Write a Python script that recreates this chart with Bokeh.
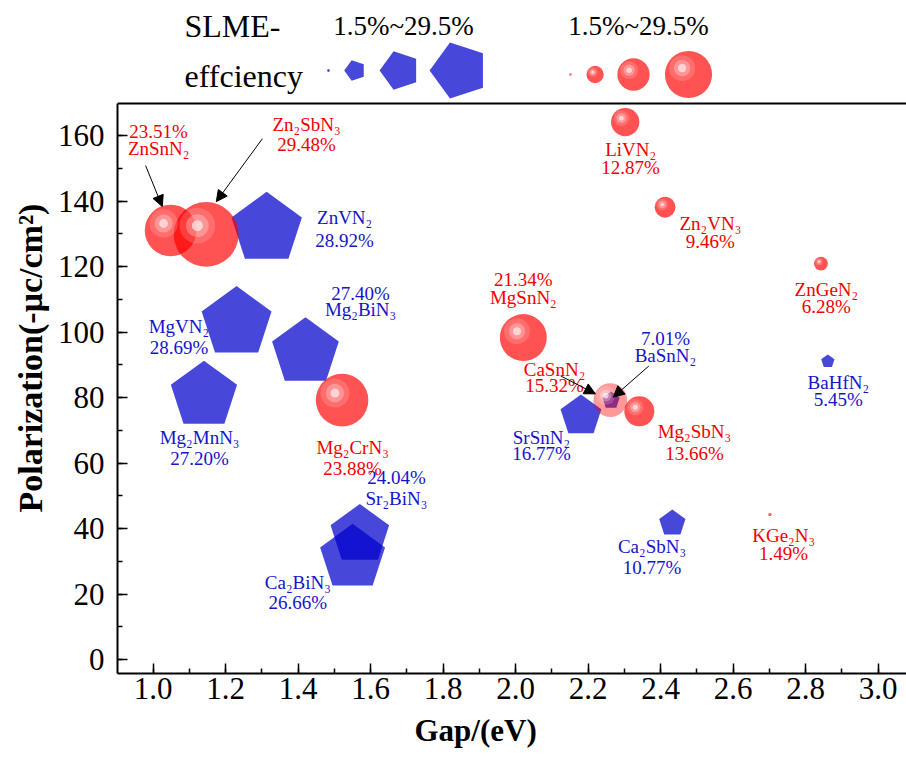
from bokeh.plotting import figure
from bokeh.models import (ColumnDataSource, Range1d, Span, Arrow, NormalHead, Title,
                          SingleIntervalTicker, PrintfTickFormatter)
from bokeh.core.properties import value
from bokeh.embed import file_html
from bokeh.resources import INLINE
import numpy as np

# ---------------- data ----------------
# red circles
red_names = ["ZnSnN₂", "Zn₂SbN₃", "Mg₂CrN₃", "MgSnN₂", "CaSnN₂", "Mg₂SbN₃",
             "LiVN₂", "Zn₂VN₃", "ZnGeN₂", "KGe₂N₃"]
red_gap = [1.048, 1.146, 1.521, 2.021, 2.261, 2.341, 2.302, 2.412, 2.842, 2.701]
red_pol = [131.0, 129.8, 79.2, 98.3, 79.2, 75.8, 164.1, 138.1, 120.9, 44.3]
red_slme = [23.51, 29.48, 23.88, 21.34, 15.32, 13.66, 12.87, 9.46, 6.28, 1.49]
red_lab_x = [1.015, 1.423, 1.550, 2.021, 2.107, 2.493, 2.317, 2.537, 2.857, 2.739]
red_name_y = [153.9, 161.3, 62.8, 108.6, 86.4, 67.7, 153.6, 131.2, 111.1, 35.8]
red_pct_y = [159.3, 155.2, 56.4, 114.0, 81.6, 61.0, 148.3, 125.6, 105.7, 30.2]

# blue pentagons
blue_names = ["ZnVN₂", "MgVN₂", "Mg₂BiN₃", "Mg₂MnN₃", "Sr₂BiN₃", "Ca₂BiN₃",
              "SrSnN₂", "Ca₂SbN₃", "BaSnN₂", "BaHfN₂"]
blue_gap = [1.313, 1.230, 1.420, 1.140, 1.570, 1.550, 2.180, 2.432, 2.263, 2.861]
blue_pol = [131.5, 102.8, 93.8, 80.6, 38.1, 31.0, 74.4, 41.6, 79.1, 91.0]
blue_slme = [28.92, 28.69, 27.40, 27.20, 24.04, 26.66, 16.77, 10.77, 7.01, 5.45]
blue_lab_x = [1.528, 1.071, 1.572, 1.128, 1.671, 1.399, 2.071, 2.376, 2.413, 2.890]
blue_name_y = [132.8, 99.5, 104.7, 65.9, 47.0, 21.6, 65.9, 32.5, 90.8, 82.7]
blue_pct_y = [125.9, 93.3, 109.6, 59.2, 53.4, 15.5, 61.0, 26.2, 96.1, 77.3]

# arrows (ZnSnN2, Zn2SbN3, CaSnN2, BaSnN2)
arrow_x0 = [0.979, 1.301, 2.124, 2.367]
arrow_y0 = [150.8, 159.0, 86.6, 89.6]
arrow_x1 = [1.025, 1.174, 2.220, 2.269]
arrow_y1 = [138.3, 139.8, 81.1, 80.1]

# size legend
legend_vals = [1.5, 10.8, 20.2, 29.5]
legend_text = "1.5%~29.5%"

# ---------------- style / layout ----------------
FONT = "Liberation Serif"
RED = "#FF0000"
RED_TXT = "#F00000"
BLUE = "#0000CC"
BLUE_TXT = "#1414C8"
W = 906
H = 757
X0, X1 = 0.9015, 3.078
Y0, Y1 = -4.27, 169.77         # axis (box) limits
BORDER_L = 117
BOX_TOP, BOX_BOT = 103, 673    # page px of the plot box
FRAME_W = W - BORDER_L
PXX = FRAME_W / (X1 - X0)
PXY = (BOX_BOT - BOX_TOP) / (Y1 - Y0)
Y_TOP = Y1 + BOX_TOP / PXY
CIRC_K = 1.1     # px radius per % (circles)
PENT_K = 1.28    # px radius per % (pentagons)
BASE_FIX = 0.35  # baseline correction, in em


def lx(px):   # placement helper: page px -> data x
    return X0 + (px - BORDER_L) / PXX


def ly(py):   # placement helper: page px -> data y
    return Y_TOP - py / PXY


def up(ys, fs):  # raise text baselines by BASE_FIX em
    return [v + BASE_FIX * fs / PXY for v in ys]


p = figure(width=W, height=H,
           x_range=Range1d(X0, X1), y_range=Range1d(Y0, Y_TOP),
           output_backend="svg", toolbar_location=None,
           min_border_left=BORDER_L, min_border_right=0,
           min_border_top=0, min_border_bottom=H - BOX_BOT)
p.outline_line_color = None
p.xgrid.visible = False
p.ygrid.visible = False
p.background_fill_color = "white"
p.border_fill_color = "white"

p.xaxis.ticker = SingleIntervalTicker(interval=0.2, num_minor_ticks=2)
p.xaxis.formatter = PrintfTickFormatter(format="%.1f")
p.yaxis.ticker = SingleIntervalTicker(interval=20, num_minor_ticks=2)
p.yaxis.bounds = (Y0, Y1)
for ax in (p.xaxis[0], p.yaxis[0]):
    ax.axis_line_width = 2
    ax.axis_line_color = "black"
    ax.major_tick_in = 10
    ax.major_tick_out = 0
    ax.minor_tick_in = 5
    ax.minor_tick_out = 0
    ax.major_tick_line_width = 1.5
    ax.minor_tick_line_width = 1.5
    ax.major_tick_line_color = "black"
    ax.minor_tick_line_color = "black"
    ax.major_label_text_font = FONT
    ax.major_label_text_font_size = "31px"
    ax.major_label_text_color = "black"
p.xaxis.major_label_standoff = 4
p.yaxis.major_label_standoff = 13

# axis titles
p.add_layout(Title(text="Gap/(eV)", align="left", offset=297, standoff=18,
                   text_font=FONT, text_font_style="bold", text_font_size="31px",
                   text_color="black"), "below")
p.add_layout(Title(text="Polarization(-μc/cm²)", align="left", offset=161,
                   standoff=12, text_font=FONT, text_font_style="bold",
                   text_font_size="34px", text_color="black"), "left")

# top edge of the box
p.add_layout(Span(location=Y1, dimension="width", line_color="black", line_width=2))

# pentagons
bsrc = ColumnDataSource(dict(x=blue_gap, y=blue_pol,
                             r=[PENT_K * v for v in blue_slme]))
p.ngon(x="x", y="y", radius="r", radius_units="screen", n=5, angle=0,
       fill_color=BLUE, fill_alpha=0.72, line_color=None, source=bsrc)


def spheres(fig, xs, ys, rs, alpha):
    xs = np.asarray(xs, float)
    ys = np.asarray(ys, float)
    rs = np.asarray(rs, float)
    fig.scatter(xs, ys, size=2 * rs, marker="circle", fill_color=RED,
                fill_alpha=alpha, line_color=None)
    hx = xs - 0.27 * rs / PXX
    hy = ys + 0.27 * rs / PXY
    for frac, a in ((0.55, 0.16), (0.35, 0.28), (0.17, 0.6)):
        fig.scatter(hx, hy, size=2 * frac * rs, marker="circle",
                    fill_color="white", fill_alpha=a, line_color=None)


normal = [i for i, n in enumerate(red_names) if n != "CaSnN₂"]
light = [i for i, n in enumerate(red_names) if n == "CaSnN₂"]
spheres(p, [red_gap[i] for i in normal], [red_pol[i] for i in normal],
        [CIRC_K * red_slme[i] for i in normal], 0.68)
spheres(p, [red_gap[i] for i in light], [red_pol[i] for i in light],
        [CIRC_K * red_slme[i] for i in light], 0.4)


def labels(fig, xs, yn, yp, names, vals, color):
    fig.text(x=xs, y=up(yn, 19), text=names, text_align="center",
             text_baseline="alphabetic", text_font=value(FONT),
             text_font_size="19px", text_color=color)
    fig.text(x=xs, y=up(yp, 19), text=[f"{v:.2f}%" for v in vals],
             text_align="center", text_baseline="alphabetic",
             text_font=value(FONT), text_font_size="19px", text_color=color)


labels(p, red_lab_x, red_name_y, red_pct_y, red_names, red_slme, RED_TXT)
labels(p, blue_lab_x, blue_name_y, blue_pct_y, blue_names, blue_slme, BLUE_TXT)

asrc = ColumnDataSource(dict(x0=arrow_x0, y0=arrow_y0, x1=arrow_x1, y1=arrow_y1))
p.add_layout(Arrow(end=NormalHead(size=11, fill_color="black", line_color="black",
                                  line_width=1),
                   x_start="x0", y_start="y0", x_end="x1", y_end="y1",
                   line_color="black", line_width=1, source=asrc))

# ---------------- size legend (strip above the box) ----------------
p.text(x=[lx(184), lx(184)], y=up([ly(37), ly(87)], 32), text=["SLME-", "effciency"],
       text_align="left", text_baseline="alphabetic", text_font=value(FONT),
       text_font_size="32px", text_color="black")
p.text(x=[lx(403), lx(638)], y=up([ly(35), ly(35)], 27),
       text=[legend_text, legend_text],
       text_align="center", text_baseline="alphabetic", text_font=value(FONT),
       text_font_size="27px", text_color="black")

leg_pent_px = [328, 354.5, 399.3, 458.6]
leg_circ_px = [570, 594.6, 633, 688]
p.ngon(x=[lx(v) for v in leg_pent_px], y=[ly(70)] * 4,
       radius=[1.0 * v for v in legend_vals],
       radius_units="screen", n=5, angle=np.pi / 2,
       fill_color=BLUE, fill_alpha=0.72, line_color=None)
spheres(p, [lx(v) for v in leg_circ_px], [ly(74)] * 4,
        [0.8 * v for v in legend_vals], 0.68)

open("out.html", "w").write(file_html(p, INLINE))
